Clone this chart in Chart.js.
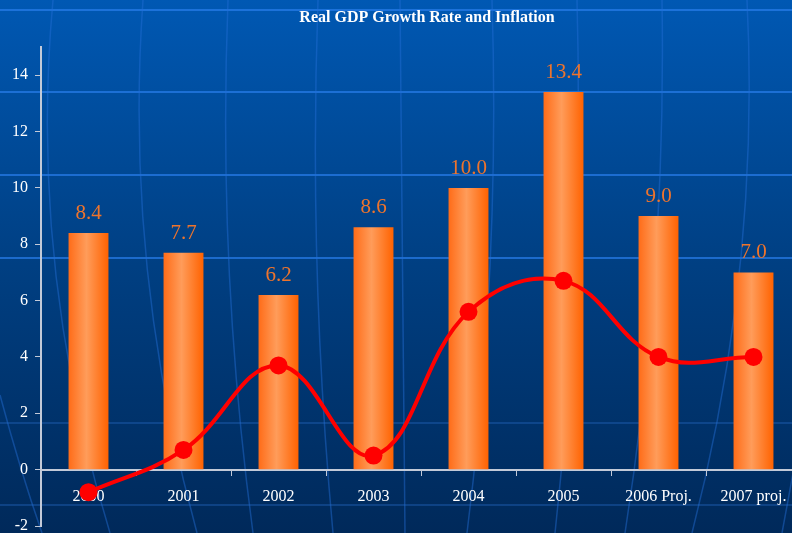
<!DOCTYPE html>
<html lang="en">
  <head>
    <meta charset="UTF-8" />
    <title>Real GDP Growth Rate and Inflation</title>
    <script src="https://cdn.jsdelivr.net/npm/chart.js"></script>
    <style>
      html, body { margin: 0; padding: 0; background: #003a78; overflow: hidden; }
      #wrap { width: 792px; height: 533px; overflow: hidden; }
    </style>
  </head>
  <body>
    <div id="wrap"><canvas id="gdpChart" width="801" height="533"></canvas></div>

    <script>
      const years = ["2000", "2001", "2002", "2003", "2004", "2005", "2006 Proj.", "2007 proj."];
      const gdpGrowth = [8.4, 7.7, 6.2, 8.6, 10.0, 13.4, 9.0, 7.0];
      const inflation = [-0.8, 0.7, 3.7, 0.5, 5.6, 6.7, 4.0, 4.0];
      const yTicks = [-2, 0, 2, 4, 6, 8, 10, 12, 14];

      const serif = '"Liberation Serif", "Times New Roman", serif';
      const axisGrey = "#c3cad8";

      // background: blue gradient with faint globe-like grid, plus the title
      const backdrop = {
        id: "backdrop",
        beforeDraw(chart) {
          const { ctx, width, height } = chart;
          ctx.save();
          const g = ctx.createLinearGradient(0, 0, 0, height);
          g.addColorStop(0, "#0058b3");
          g.addColorStop(0.5, "#003f82");
          g.addColorStop(1, "#00295a");
          ctx.fillStyle = g;
          ctx.fillRect(0, 0, width, height);

          ctx.lineWidth = 2;
          [10, 92, 175, 258].forEach((y) => {
            ctx.strokeStyle = "rgba(40,125,235,0.7)";
            ctx.beginPath(); ctx.moveTo(0, y); ctx.lineTo(width, y); ctx.stroke();
          });
          [423, 505].forEach((y) => {
            ctx.strokeStyle = "rgba(30,95,180,0.45)";
            ctx.beginPath(); ctx.moveTo(0, y); ctx.lineTo(width, y); ctx.stroke();
          });

          const curves = [
            [53, 55, 110], [143, 147, 197], [228, 229, 253], [318, 317, 333],
            [400, 403, 405], [492, 490, 467], [577, 575, 555], [662, 655, 625],
            [747, 740, 692], [830, 820, 782]
          ];
          ctx.strokeStyle = "rgba(35,110,215,0.45)";
          ctx.lineWidth = 1.5;
          curves.forEach(([a, m, b]) => {
            const c = 2 * m - (a + b) / 2;
            ctx.beginPath();
            ctx.moveTo(a, 0);
            ctx.quadraticCurveTo(c, height / 2, b, height);
            ctx.stroke();
          });
          ctx.beginPath();
          ctx.moveTo(0, 395);
          ctx.quadraticCurveTo(20, 470, 42, height);
          ctx.stroke();

          ctx.fillStyle = "#ffffff";
          ctx.font = "bold 16px " + serif;
          ctx.textAlign = "center";
          ctx.textBaseline = "middle";
          ctx.fillText("Real GDP Growth Rate and Inflation", 427, 18);
          ctx.restore();
        },
      };

      const barLabels = {
        id: "barLabels",
        afterDatasetsDraw(chart) {
          const meta = chart.getDatasetMeta(0);
          const ctx = chart.ctx;
          ctx.save();
          ctx.font = "21px " + serif;
          ctx.fillStyle = "#ee742c";
          ctx.textAlign = "center";
          ctx.textBaseline = "alphabetic";
          meta.data.forEach((bar, i) => {
            ctx.fillText(gdpGrowth[i].toFixed(1), bar.x, bar.y - 14);
          });
          ctx.restore();
        },
      };

      const barFill = (c) => {
        const chart = c.chart;
        const xs = chart.scales.x;
        if (!xs || c.dataIndex === undefined || !xs.width) return "#ff7a30";
        const cx = xs.getPixelForValue(c.dataIndex);
        const half = ((xs.width / years.length) * 0.42) / 2;
        const g = chart.ctx.createLinearGradient(cx - half, 0, cx + half, 0);
        g.addColorStop(0, "#ff6c18");
        g.addColorStop(0.45, "#ff9c5a");
        g.addColorStop(1, "#ff6200");
        return g;
      };

      new Chart(document.getElementById("gdpChart"), {
        type: "bar",
        data: {
          labels: years,
          datasets: [
            {
              label: "Real GDP Growth",
              data: gdpGrowth,
              backgroundColor: barFill,
              barPercentage: 0.42,
              categoryPercentage: 1,
              order: 1,
            },
            {
              type: "line",
              label: "Inflation",
              data: inflation,
              borderColor: "#ff0000",
              borderWidth: 4,
              tension: 0.4,
              pointRadius: 9,
              pointBackgroundColor: "#ff0000",
              pointBorderWidth: 0,
              order: 0,
            },
          ],
        },
        options: {
          responsive: false,
          animation: false,
          devicePixelRatio: 1,
          layout: { autoPadding: false, padding: { top: 47, bottom: 7, left: 0, right: 0 } },
          plugins: {
            legend: { display: false },
            title: { display: false },
            tooltip: { enabled: false },
          },
          scales: {
            x: {
              position: { y: 0 },
              offset: true,
              grid: { offset: true, drawOnChartArea: false, tickLength: 5, color: axisGrey },
              border: { color: axisGrey, width: 2 },
              ticks: {
                color: "#ffffff",
                font: { family: serif, size: 16 },
                padding: 13,
                maxRotation: 0,
                autoSkip: false,
              },
              afterFit(s) { s.height = 0; s.paddingLeft = 0; s.paddingRight = 0; },
            },
            y: {
              min: -2,
              max: 15,
              afterBuildTicks(s) { s.ticks = yTicks.map((v) => ({ value: v })); },
              grid: { drawOnChartArea: false, tickLength: 6, color: axisGrey },
              border: { color: axisGrey, width: 2 },
              ticks: {
                color: "#ffffff",
                font: { family: serif, size: 16 },
                padding: 7,
              },
              afterFit(s) { s.width = 41; s.paddingTop = 0; s.paddingBottom = 0; },
            },
          },
        },
        plugins: [backdrop, barLabels],
      });
    </script>
  </body>
</html>
